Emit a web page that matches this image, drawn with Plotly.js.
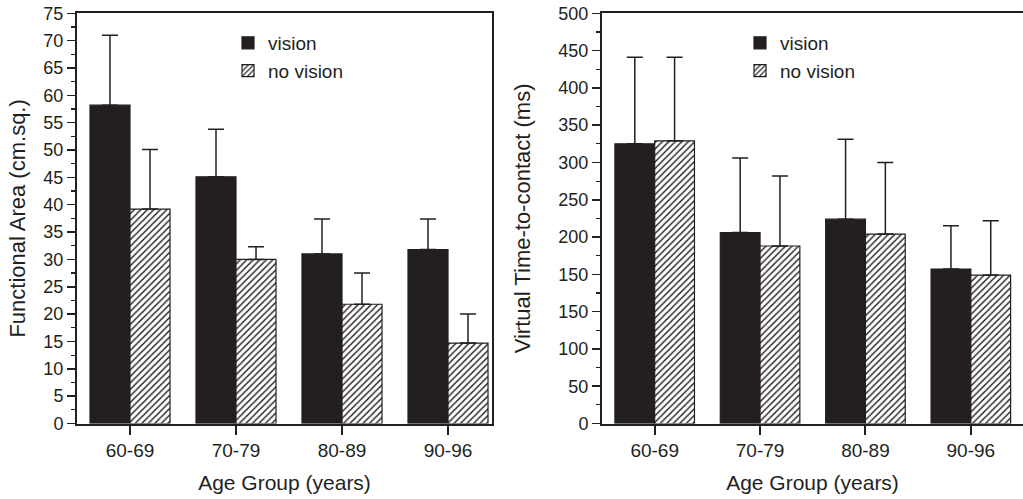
<!DOCTYPE html>
<html>
<head>
<meta charset="utf-8">
<script src="https://cdn.plot.ly/plotly-3.0.1.min.js"></script>
<style>html,body{margin:0;padding:0;background:#fff;}#chart{width:1023px;height:499px;}</style>
</head>
<body>
<div id="chart"></div>
<script>
// ---- data ----
const ageGroups = ['60-69', '70-79', '80-89', '90-96'];

// Left panel: Functional Area (cm.sq.)
const areaVision        = [58.2, 45.1, 31.0, 31.8];
const areaVisionErrTop  = [71.0, 53.8, 37.4, 37.4];
const areaNoVision      = [39.2, 30.0, 21.8, 14.7];
const areaNoVisionErrTop= [50.1, 32.3, 27.5, 20.0];

// Right panel: Virtual Time-to-contact (ms), values as read against the printed labels
const vttcVision        = [325, 206, 224, 157];
const vttcVisionErrTop  = [441, 306, 331, 215];
const vttcNoVision      = [329, 188, 204, 149];
const vttcNoVisionErrTop= [441, 282, 300, 222];

// The printed right axis repeats the label "150", so every label above it sits one step (50) higher on the scale
const vttcTickText = ['0', '50', '100', '150', '150', '200', '250', '300', '350', '400', '450', '500'];
const vttcTickStep = 50;
const vttcLabelOffset = 50;

// ---- styling ----
const INK = '#231f20';
const FONT = 'Liberation Sans, Arial, Helvetica, sans-serif';

function plus(tops, vals) { return tops.map((t, i) => t - vals[i]); }
function zeros(a) { return a.map(() => 0); }

function barTrace(name, y, errTop, hatched, xa, ya, legendId, showLegend) {
  const marker = hatched
    ? { color: '#ffffff', line: { color: INK, width: 1.2 },
        pattern: { shape: '/', fgcolor: INK, bgcolor: '#ffffff', size: 4.6, solidity: 0.32 } }
    : { color: INK, line: { color: INK, width: 1.2 } };
  return {
    type: 'bar', name: name, x: ageGroups, y: y,
    xaxis: xa, yaxis: ya, legend: legendId, showlegend: showLegend,
    marker: marker,
    error_y: { type: 'data', symmetric: false, array: plus(errTop, y), arrayminus: zeros(y),
               color: INK, thickness: 1.5, width: 8 },
    hoverinfo: 'skip'
  };
}

const vttcShift = v => v.map(x => x + vttcLabelOffset);

const traces = [
  barTrace('vision', areaVision, areaVisionErrTop, false, 'x', 'y', 'legend', true),
  barTrace('no vision', areaNoVision, areaNoVisionErrTop, true, 'x', 'y', 'legend', true),
  barTrace('vision', vttcShift(vttcVision), vttcShift(vttcVisionErrTop), false, 'x2', 'y2', 'legend2', true),
  barTrace('no vision', vttcShift(vttcNoVision), vttcShift(vttcNoVisionErrTop), true, 'x2', 'y2', 'legend2', true)
];

const W = 1023, H = 499;
const yBottom = (H - 423.5) / H, yTop = (H - 13.3) / H;

const tickFont = { family: FONT, size: 18, color: INK };
const xTickFont = { family: FONT, size: 19, color: INK };
const titleFont = { family: FONT, size: 21, color: INK };
const yTitleFont = { family: FONT, size: 22, color: INK };
const legendFont = { family: FONT, size: 19, color: INK };

const commonX = {
  type: 'category', showline: true, linecolor: INK, linewidth: 2,
  ticks: 'outside', ticklen: 9, tickwidth: 2, tickcolor: INK,
  tickfont: xTickFont, showgrid: false, zeroline: false, automargin: false, fixedrange: true,
  title: { text: 'Age Group (years)', font: titleFont, standoff: 15 }
};
const commonY = {
  showline: true, linecolor: INK, linewidth: 2,
  ticks: 'outside', ticklen: 8, tickwidth: 1.5, tickcolor: INK,
  tickfont: tickFont, showgrid: false, zeroline: false, automargin: false, fixedrange: true
};

const layout = {
  width: W, height: H,
  margin: { l: 0, r: 0, t: 0, b: 0 },
  paper_bgcolor: '#ffffff', plot_bgcolor: '#ffffff',
  barmode: 'group', bargap: 0.245, bargroupgap: 0,
  font: { family: FONT, color: INK },
  xaxis: Object.assign({}, commonX, {
    domain: [77 / W, 492 / W], range: [-0.5, 3.415], anchor: 'y', mirror: true
  }),
  yaxis: Object.assign({}, commonY, {
    domain: [yBottom, yTop], range: [0, 75], anchor: 'x', mirror: true,
    tickmode: 'linear', tick0: 0, dtick: 5,
    minor: { ticks: 'outside', ticklen: 4, tickwidth: 1.2, tickcolor: INK, dtick: 2.5, tick0: 0, showgrid: false },
    title: { text: 'Functional Area (cm.sq.)', font: yTitleFont, standoff: 12 }
  }),
  xaxis2: Object.assign({}, commonX, {
    domain: [602 / W, 1], range: [-0.5, 3.495], anchor: 'y2', mirror: true
  }),
  yaxis2: Object.assign({}, commonY, {
    domain: [yBottom, yTop], range: [0, vttcTickStep * (vttcTickText.length - 1)], anchor: 'x2', mirror: false,
    tickmode: 'array',
    tickvals: vttcTickText.map((_, i) => i * vttcTickStep),
    ticktext: vttcTickText,
    minor: { ticks: 'outside', ticklen: 4, tickwidth: 1.2, tickcolor: INK, dtick: vttcTickStep / 2, tick0: 0, showgrid: false },
    title: { text: 'Virtual Time-to-contact (ms)', font: yTitleFont, standoff: 22 }
  }),
  legend: {
    x: 228 / W, y: (H - 24) / H, xanchor: 'left', yanchor: 'top',
    bgcolor: 'rgba(0,0,0,0)', borderwidth: 0, font: legendFont,
    tracegroupgap: 0, itemwidth: 30, traceorder: 'normal'
  },
  legend2: {
    x: 740 / W, y: (H - 24) / H, xanchor: 'left', yanchor: 'top',
    bgcolor: 'rgba(0,0,0,0)', borderwidth: 0, font: legendFont,
    tracegroupgap: 0, itemwidth: 30, traceorder: 'normal'
  }
};

Plotly.newPlot('chart', traces, layout, { staticPlot: true, displayModeBar: false });
</script>
</body>
</html>
